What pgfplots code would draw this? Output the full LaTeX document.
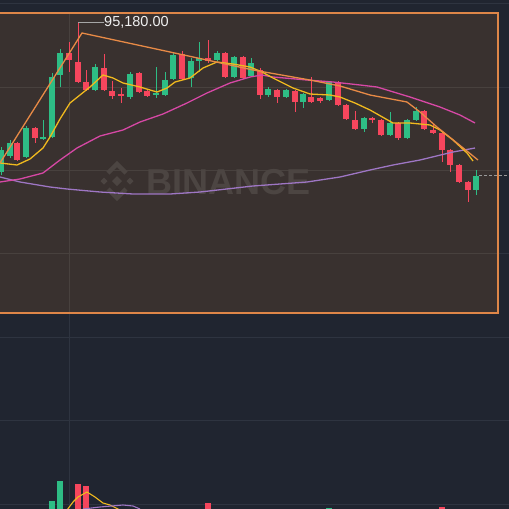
\documentclass[border=0pt]{standalone}
\usepackage{pgfplots}
\usepackage{pgfplotstable}
\pgfplotsset{compat=1.18}
\usepackage{fontspec}
\setmainfont{Liberation Sans}

\definecolor{pagebg}{RGB}{32,37,48}
\definecolor{boxbg}{RGB}{57,49,47}
\definecolor{boxline}{RGB}{222,134,72}
\definecolor{gridout}{RGB}{46,52,64}
\definecolor{gridin}{RGB}{72,65,62}
\definecolor{wmark}{RGB}{76,69,66}
\definecolor{upcol}{RGB}{46,189,133}
\definecolor{downcol}{RGB}{246,70,93}
\definecolor{peakcol}{RGB}{232,138,70}
\definecolor{ma7}{RGB}{240,185,30}
\definecolor{ma25}{RGB}{214,72,165}
\definecolor{ma99}{RGB}{158,118,196}

\pgfplotsset{candle/.style 2 args={draw=none, mark=none, forget plot,
  error bars/.cd, y dir=both, y explicit, error mark=none,
  error bar style={draw=#1, line width=#2}}}

% candles in screen units (y grows downwards): body top/bottom, wick high/low
\pgfplotstableread{
x top bot hi lo
1 150 172 147 175
10 143 156 140 158
26 128 157 126 158
43 137 139 120 140
52 77 137 73 138
60 53 75 49 87
95 67 90 64 91
130 74 97 72 99
156 93 95 67 98
165 80 95 72 96
173 55 79 53 80
191 61 78 58 87
199 58 61 42 72
217 53 60 51 61
234 57 77 56 78
251 63 76 58 77
268 89 95 87 97
286 90 97 89 98
303 94 102 93 108
329 82 100 81 101
364 118 129 117 132
390 123 135 112 136
407 120 138 119 139
416 111 120 107 121
476 176 190 170 195
}\upcandles

\pgfplotstableread{
x top bot hi lo
17 143 160 142 161
35 128 138 127 143
69 53 60 42 72
78 62 82 23 83
86 82 90 70 91
104 68 90 54 91
112 91 96 81 99
121 94 96 88 103
139 73 92 72 93
147 91 96 90 97
182 54 79 51 80
208 58 61 40 63
225 53 77 52 78
243 57 78 56 79
260 70 95 68 99
277 90 97 89 103
295 91 102 90 112
311 97 102 77 103
320 98 101 97 103
338 82 105 81 106
346 105 119 104 120
355 120 129 111 130
372 118 120 117 123
381 120 135 119 136
398 123 138 122 140
424 111 129 110 130
433 130 133 124 134
442 133 150 132 162
450 150 165 149 172
459 165 182 164 183
468 182 190 181 202
}\downcandles

\pgfplotstableread{
x top
52 501
60 481
329 508
}\upvol

\pgfplotstableread{
x top
78 484
86 486
208 503
442 507
}\downvol

\begin{document}
\begin{tikzpicture}
\begin{axis}[
  width=509pt, height=509pt, scale only axis,
  xmin=0, xmax=509, ymin=0, ymax=509, y dir=reverse,
  hide axis, clip=true,
]
% backgrounds
\fill[pagebg] (axis cs:0,0) rectangle (axis cs:509,509);
\fill[boxbg] (axis cs:-5,13) rectangle (axis cs:498,313);
% grid
\draw[gridout, line width=0.8pt] (axis cs:0,3) -- (axis cs:509,3);
\draw[gridout, line width=0.8pt] (axis cs:0,337) -- (axis cs:509,337);
\draw[gridout, line width=0.8pt] (axis cs:0,420) -- (axis cs:509,420);
\draw[gridout, line width=0.8pt] (axis cs:0,504) -- (axis cs:509,504);
\draw[gridout, line width=0.8pt] (axis cs:498,87) -- (axis cs:509,87);
\draw[gridout, line width=0.8pt] (axis cs:498,170) -- (axis cs:509,170);
\draw[gridout, line width=0.8pt] (axis cs:498,253) -- (axis cs:509,253);
\draw[gridin, line width=0.8pt] (axis cs:0,87) -- (axis cs:498,87);
\draw[gridin, line width=0.8pt] (axis cs:0,170) -- (axis cs:498,170);
\draw[gridin, line width=0.8pt] (axis cs:0,253) -- (axis cs:498,253);
\draw[gridout, line width=0.8pt] (axis cs:69,313) -- (axis cs:69,509);
\draw[gridin, line width=0.8pt] (axis cs:69,13) -- (axis cs:69,313);

% watermark
\fill[wmark] (axis cs:117,176) -- (axis cs:122,181) -- (axis cs:117,186) -- (axis cs:112,181) -- cycle;
\fill[wmark] (axis cs:104,177.5) -- (axis cs:107.5,181) -- (axis cs:104,184.5) -- (axis cs:100.5,181) -- cycle;
\fill[wmark] (axis cs:130,177.5) -- (axis cs:133.5,181) -- (axis cs:130,184.5) -- (axis cs:126.5,181) -- cycle;
\draw[wmark, line width=4.5pt] (axis cs:108,173) -- (axis cs:117,164) -- (axis cs:126,173);
\draw[wmark, line width=4.5pt] (axis cs:108,189) -- (axis cs:117,198) -- (axis cs:126,189);
\node[text=wmark, font=\fontsize{36}{36}\selectfont\bfseries, anchor=west, inner sep=0pt]
  at (axis cs:146,182) {BINANCE};

% candle wicks and bodies
\addplot[candle={upcol}{1pt}]
  table[x=x, y expr={(\thisrow{hi}+\thisrow{lo})/2}, y error expr={(\thisrow{lo}-\thisrow{hi})/2}] {\upcandles};
\addplot[candle={upcol}{6.5pt}]
  table[x=x, y expr={(\thisrow{top}+\thisrow{bot})/2}, y error expr={max((\thisrow{bot}-\thisrow{top})/2,0.8)}] {\upcandles};
\addplot[candle={downcol}{1pt}]
  table[x=x, y expr={(\thisrow{hi}+\thisrow{lo})/2}, y error expr={(\thisrow{lo}-\thisrow{hi})/2}] {\downcandles};
\addplot[candle={downcol}{6.5pt}]
  table[x=x, y expr={(\thisrow{top}+\thisrow{bot})/2}, y error expr={max((\thisrow{bot}-\thisrow{top})/2,0.8)}] {\downcandles};

% volume bars
\addplot[candle={upcol}{6.5pt}]
  table[x=x, y expr={(\thisrow{top}+512)/2}, y error expr={(512-\thisrow{top})/2}] {\upvol};
\addplot[candle={downcol}{6.5pt}]
  table[x=x, y expr={(\thisrow{top}+512)/2}, y error expr={(512-\thisrow{top})/2}] {\downvol};

% moving averages
\addplot[ma99, line width=1.3pt] coordinates {
(0,177) (20,182) (50,187) (67,189) (100,192) (133,194) (170,194) (200,192)
(253,186) (307,182) (340,177) (370,170) (393,165) (420,160) (453,152) (475,148)};
\addplot[ma25, line width=1.3pt] coordinates {
(0,182) (20,179) (43,173) (60,160) (77,148) (100,136) (123,130) (140,122)
(163,114) (187,103) (207,93) (230,83) (250,77) (262,75) (273,77) (307,80)
(333,82) (360,85) (377,87) (410,97) (440,107) (460,115) (475,123)};
\addplot[ma7, line width=1.3pt] coordinates {
(0,163) (17,165) (30,159) (43,148) (50,137) (60,119) (70,103) (80,95) (90,87) (103,75)
(113,78) (123,83) (140,87) (150,90) (157,92) (167,88) (175,82) (190,78)
(203,68) (217,62) (233,64) (250,67) (262,72) (273,78) (293,88) (310,94)
(330,95) (340,97) (355,103) (370,110) (393,123) (410,123) (430,125)
(440,130) (453,140) (467,153) (473,161)};
\addplot[peakcol, line width=1.3pt] coordinates {
(0,163) (82,33) (170,52) (253,70) (310,80) (340,86) (370,95) (407,102) (420,112)
(437,127) (457,143) (478,160)};
\addplot[ma7, line width=1.1pt] coordinates {(67,510) (73,502) (78,497) (87,492) (95,497) (103,503) (110,505) (116,508) (120,510)};
\addplot[ma99, line width=1.1pt] coordinates {(83,509) (100,507) (123,505) (133,506) (140,509)};

% last price line
\draw[gray!80, line width=0.8pt, dash pattern=on 3pt off 2pt] (axis cs:479,175) -- (axis cs:509,175);

% high marker
\draw[gray!70, line width=0.8pt] (axis cs:78,22) -- (axis cs:104,22);
\node[anchor=west, inner sep=1pt, text=white!88!gray, font=\fontsize{14.5}{14.5}\selectfont]
  at (axis cs:103,22) {95,180.00};

% highlighted box border
\draw[boxline, line width=2pt] (axis cs:-5,13) rectangle (axis cs:498,313);
\end{axis}
\end{tikzpicture}
\end{document}
